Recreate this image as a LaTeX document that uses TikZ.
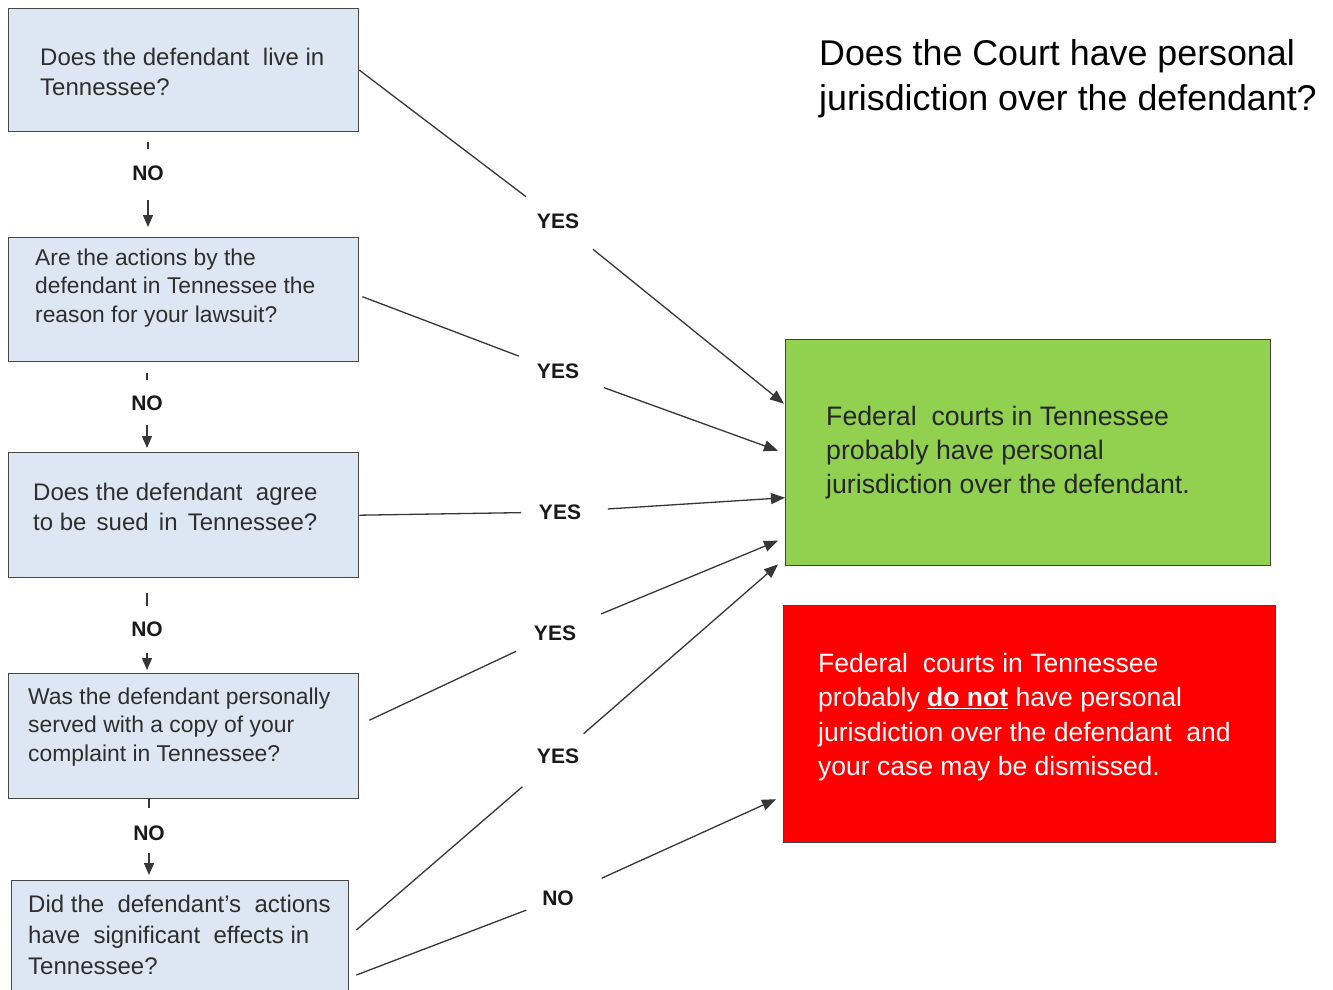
\documentclass[tikz,border=0pt]{standalone}
\usepackage{fontspec}
\setmainfont{Liberation Sans}
\usetikzlibrary{arrows.meta,calc}
\definecolor{qblue}{RGB}{221,231,243}
\definecolor{okgreen}{RGB}{146,208,80}
\definecolor{nored}{RGB}{255,0,0}
\definecolor{edge}{RGB}{55,55,55}
\begin{document}
\begin{tikzpicture}[x=1pt,y=-1pt,
  qbox/.style={draw=black!72, line width=1.4pt, fill=qblue, rectangle, inner sep=0pt, anchor=north west},
  rbox/.style={draw=black!75, line width=1.4pt, rectangle, inner sep=0pt, anchor=north west},
  qtext/.style={anchor=west, align=left, inner sep=0pt, text=black!82},
  lab/.style={font=\fontsize{21}{21}\selectfont\bfseries, inner sep=0pt, text=black!90},
  conn/.style={draw=edge, line width=1.3pt},
  arr/.style={conn, -{Triangle[length=14pt,width=11pt]}},
  varr/.style={conn, -{Triangle[length=12pt,width=10pt]}}
]
\useasboundingbox[fill=white] (0,0) rectangle (1333,990);
\clip (0,0) rectangle (1333,990);

% question boxes
\node[qbox, minimum width=350pt, minimum height=123pt] (q1) at (8,8) {};
\node[qbox, minimum width=350pt, minimum height=124pt] (q2) at (8,237) {};
\node[qbox, minimum width=350pt, minimum height=125pt] (q3) at (8,452) {};
\node[qbox, minimum width=350pt, minimum height=125pt] (q4) at (8,673) {};
\node[qbox, minimum width=337pt, minimum height=140pt] (q5) at (11,880) {};

\node[qtext, font=\fontsize{24}{30}\selectfont] (q1t) at (40,72) {Does the defendant\ \ live in\\Tennessee?};
\node[qtext, font=\fontsize{22.8}{28.5}\selectfont] (q2t) at (35,288) {Are the actions by the\\defendant in Tennessee the\\reason for your lawsuit?};
\node[qtext, font=\fontsize{24}{30}\selectfont] (q3t) at (33,507) {Does the defendant\ \ agree\\to be\hspace{3.5pt} sued\hspace{3.5pt} in\hspace{3.5pt} Tennessee?};
\node[qtext, font=\fontsize{22.9}{28.5}\selectfont] (q4t) at (28,727) {Was the defendant personally\\served with a copy of your\\complaint in Tennessee?};
\node[qtext, font=\fontsize{24}{31}\selectfont] (q5t) at (28,935) {Did the\ \ defendant{\char"0027}s\ \ actions\\have\ \ significant\ \ effects in\\Tennessee?};

% title
\node[qtext, text=black, font=\fontsize{35.8}{45}\selectfont] (title) at (819,79) {Does the Court have personal\\jurisdiction over the defendant?};

% outcome boxes
\node[rbox, fill=okgreen, minimum width=485pt, minimum height=226pt] (yesbox) at (785,339) {};
\node[rbox, fill=nored, minimum width=492pt, minimum height=237pt] (nobox) at (783,605) {};
\node[qtext, text=black!85, font=\fontsize{26.7}{34}\selectfont] (yest) at (826,453) {Federal\ \ courts in Tennessee\\probably have personal\\jurisdiction over the defendant.};
\node[qtext, text=white, font=\fontsize{26.5}{34.5}\selectfont] (not) at (818,717) {Federal\ \ courts in Tennessee\\probably \textbf{\underline{do not}} have personal\\jurisdiction over the defendant\ \ and\\your case may be dismissed.};

% NO labels on the vertical chain
\node[lab] (n1) at (148,173) {NO};
\node[lab] (n2) at (147,403) {NO};
\node[lab] (n3) at (147,629) {NO};
\node[lab] (n4) at (149,833) {NO};

\draw[conn, shorten <=10pt, shorten >=24pt] (n1 |- q1.south) -- (n1.center);
\draw[varr, shorten <=27pt, shorten >=10pt] (n1.center) -- (n1 |- q2.north);
\draw[conn, shorten <=11pt, shorten >=23pt] (n2 |- q2.south) -- (n2.center);
\draw[varr, shorten <=22pt, shorten >=4pt] (n2.center) -- (n2 |- q3.north);
\draw[conn, shorten <=15pt, shorten >=23pt] (n3 |- q3.south) -- (n3.center);
\draw[varr, shorten <=24pt, shorten >=3pt] (n3.center) -- (n3 |- q4.north);
\draw[conn, shorten <=0pt, shorten >=25pt] (n4 |- q4.south) -- (n4.center);
\draw[varr, shorten <=20pt, shorten >=5pt] (n4.center) -- (n4 |- q5.north);

% YES / NO labels on diagonals
\node[lab] (y1) at (558,221) {YES};
\node[lab] (y2) at (558,371) {YES};
\node[lab] (y3) at (560,512) {YES};
\node[lab] (y4) at (555,633) {YES};
\node[lab] (y5) at (558,756) {YES};
\node[lab] (n5) at (558,898) {NO};

\draw[conn, shorten >=40pt] (q1.east) -- (y1.center);
\draw[arr, shorten <=45pt] (y1.center) -- ($(yesbox.west)+(-1,-49)$);
\draw[conn, shorten >=42pt] ($(q2.east)+(3,-3)$) -- (y2.center);
\draw[arr, shorten <=49pt] (y2.center) -- ($(yesbox.west)+(-7,-2)$);
\draw[conn, shorten >=39pt] (q3.east) -- (y3.center);
\draw[arr, shorten <=48pt] (y3.center) -- ($(yesbox.west)+(0,45)$);
\draw[conn, shorten >=43pt] ($(q4.east)+(10,-16)$) -- (y4.center);
\draw[arr, shorten <=50pt] (y4.center) -- ($(yesbox.west)+(-7,88)$);
\draw[conn, shorten >=47pt] ($(q5.north east)+(7,50)$) -- (y5.center);
\draw[arr, shorten <=34pt] (y5.center) -- ($(yesbox.south west)+(-7,-2)$);
\draw[conn, shorten >=34pt] ($(q5.north east)+(7,95)$) -- (n5.center);
\draw[arr, shorten <=48pt] (n5.center) -- ($(nobox.west)+(-7,75)$);
\end{tikzpicture}
\end{document}
